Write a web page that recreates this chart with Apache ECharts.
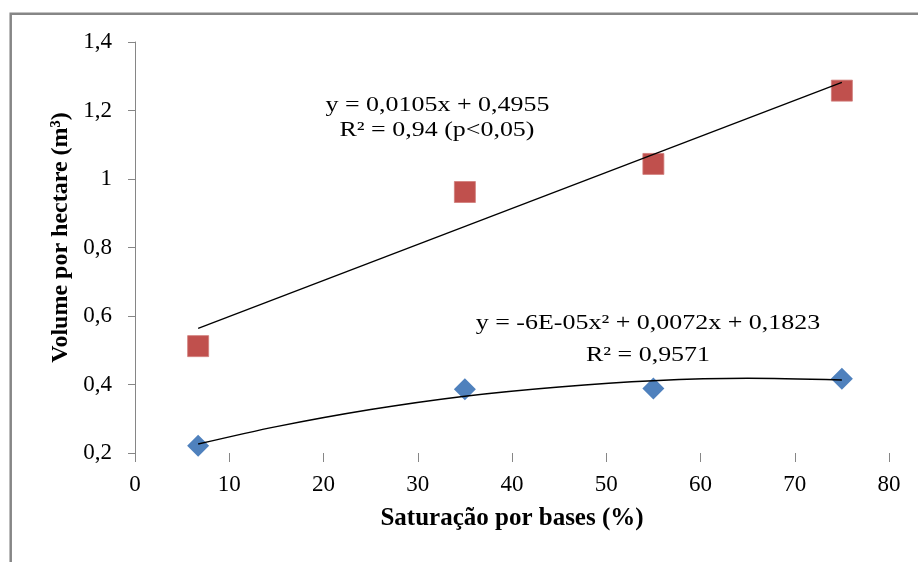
<!DOCTYPE html>
<html>
<head>
<meta charset="utf-8">
<script src="https://cdn.jsdelivr.net/npm/echarts@6/dist/echarts.min.js"></script>
<style>
html,body{margin:0;padding:0;background:#fff;}
#chart{width:918px;height:562px;}
</style>
</head>
<body>
<div id="chart"></div>
<script>
// ---- data ----
const xTicks = [0, 10, 20, 30, 40, 50, 60, 70, 80];
const yTicks = [0.2, 0.4, 0.6, 0.8, 1.0, 1.2, 1.4];
const yTickLabels = ['0,2', '0,4', '0,6', '0,8', '1', '1,2', '1,4'];

const saturacao = [6.7, 35, 55, 75];
const volumeRed = [0.512, 0.962, 1.044, 1.258];
const volumeBlue = [0.221, 0.386, 0.388, 0.417];

// trend lines
const trendRedX = [6.7, 75];
const trendRedY = [0.564, 1.282];
const trendBlueX = [6.7, 15, 25, 35, 45, 55, 65, 75];
const trendBlueY = [0.226, 0.277, 0.327, 0.366, 0.393, 0.411, 0.418, 0.413];

const eqRed = ['y = 0,0105x + 0,4955', 'R² = 0,94 (p<0,05)'];
const eqBlue = ['y = -6E-05x² + 0,0072x + 0,1823', 'R² = 0,9571'];

const xTitle = 'Saturação por bases (%)';
const yTitle = 'Volume por hectare (m³)';

const pairs = (xs, ys) => xs.map((x, i) => [x, ys[i]]);

const SERIF = '"Liberation Serif", "Times New Roman", serif';
const chart = echarts.init(document.getElementById('chart'), null, {renderer: 'canvas'});

function eqText(txt, x, y) {
  return {
    type: 'text', x: x, y: y, scaleX: 1.18, z: 100,
    style: {
      text: txt, font: '22px ' + SERIF, fill: '#000',
      align: 'center', verticalAlign: 'middle',
      textAlign: 'center', textVerticalAlign: 'middle'
    }
  };
}

chart.setOption({
  animation: false,
  backgroundColor: '#fff',
  grid: {left: 135, right: 29, top: 42, bottom: 109, containLabel: false, outerBoundsMode: 'none'},
  xAxis: {
    type: 'value', min: 0, max: 80, interval: 10,
    name: xTitle, nameLocation: 'middle', nameGap: 53,
    nameTextStyle: {fontFamily: SERIF, fontWeight: 'bold', fontSize: 25, color: '#000'},
    axisLine: {show: false},
    axisTick: {show: true, length: 9, lineStyle: {color: '#868686', width: 1}},
    axisLabel: {
      margin: 20, color: '#000', fontFamily: SERIF, fontSize: 23,
      formatter: v => String(xTicks[xTicks.indexOf(v)])
    },
    splitLine: {show: false}
  },
  yAxis: {
    type: 'value', min: 0.2, max: 1.4, interval: 0.2,
    name: yTitle, nameLocation: 'middle', nameGap: 61,
    nameTextStyle: {fontFamily: SERIF, fontWeight: 'bold', fontSize: 24, color: '#000', padding: [0, 0, 0, 20]},
    axisLine: {show: true, lineStyle: {color: '#868686', width: 1}},
    axisTick: {show: true, length: 7, lineStyle: {color: '#868686', width: 1}},
    axisLabel: {
      margin: 23, color: '#000', fontFamily: SERIF, fontSize: 23,
      formatter: v => {
        const i = yTicks.findIndex(t => Math.abs(t - v) < 1e-6);
        return i >= 0 ? yTickLabels[i] : '';
      }
    },
    splitLine: {show: false}
  },
  series: [
    {
      type: 'scatter', name: 'red', data: pairs(saturacao, volumeRed),
      symbol: 'rect', symbolSize: 21, z: 2,
      itemStyle: {color: '#C0504D', opacity: 1, borderColor: '#D07C7A', borderWidth: 0.8}
    },
    {
      type: 'scatter', name: 'blue', data: pairs(saturacao, volumeBlue),
      symbol: 'diamond', symbolSize: 22, z: 2,
      itemStyle: {color: '#4F81BD', opacity: 1}
    },
    {
      type: 'line', name: 'trendRed', data: pairs(trendRedX, trendRedY),
      showSymbol: false, symbol: 'none', z: 5,
      lineStyle: {color: '#000', width: 1.3}
    },
    {
      type: 'line', name: 'trendBlue', data: pairs(trendBlueX, trendBlueY),
      showSymbol: false, symbol: 'none', smooth: 0.3, z: 5,
      lineStyle: {color: '#000', width: 1.5}
    }
  ],
  graphic: [
    {
      type: 'rect', z: -1, silent: true,
      shape: {x: 10.7, y: 13.7, width: 2000, height: 2000},
      style: {fill: null, stroke: '#868686', lineWidth: 2.5}
    },
    eqText(eqRed[0], 437.5, 105),
    eqText(eqRed[1], 437, 130.5),
    eqText(eqBlue[0], 648, 323.7),
    eqText(eqBlue[1], 648, 355.5)
  ]
});
</script>
</body>
</html>
